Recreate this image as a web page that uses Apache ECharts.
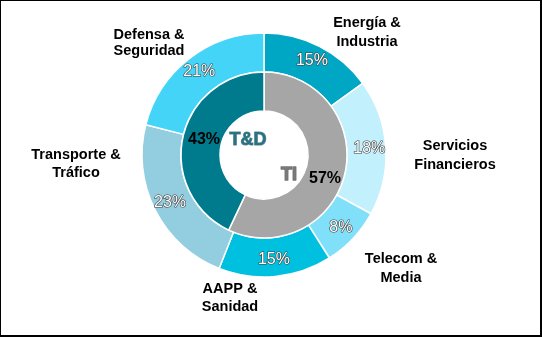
<!DOCTYPE html>
<html>
<head>
<meta charset="utf-8">
<script src="https://cdn.jsdelivr.net/npm/echarts@6/dist/echarts.min.js"></script>
<style>
html,body{margin:0;padding:0;background:#fff;}
#wrap{position:relative;width:542px;height:337px;}
#chart{position:absolute;left:0;top:0;width:542px;height:337px;}
#frame{position:absolute;left:0;top:0;width:542px;height:337px;box-sizing:border-box;border-left:1px solid #000;border-top:1px solid #000;border-right:2px solid #000;border-bottom:2px solid #000;pointer-events:none;}
</style>
</head>
<body>
<div id="wrap"><div id="chart"></div><div id="frame"></div></div>
<script>
const outerNames = ['Energía &\nIndustria', 'Servicios\nFinancieros', 'Telecom &\nMedia', 'AAPP &\nSanidad', 'Transporte &\nTráfico', 'Defensa &\nSeguridad'];
const outerValues = [15, 18, 8, 15, 23, 21];
const outerColors = ['#00a7c5', '#c2f0fc', '#80e0f9', '#00c0e0', '#93cde0', '#44d4f7'];
const innerNames = ['TI', 'T&D'];
const innerValues = [57, 43];
const innerColors = ['#a6a6a6', '#007b8d'];

// label placements (layout only)
const outerNamePos = [[367, 32], [455, 155], [401, 268], [230, 298], [76, 164], [149, 43]];
const outerNameLH = [19, 19, 19, 18, 18, 16];
const innerPctPos = [[325, 179], [204, 140]];
const innerNamePos = [[289, 175], [248, 140]];

const FONT = '"Liberation Sans", Arial, sans-serif';
const center = [264, 155];

const chart = echarts.init(document.getElementById('chart'), null, {renderer: 'canvas'});

const outerData = outerNames.map((n, i) => ({name: n, value: outerValues[i], itemStyle: {color: outerColors[i]}}));
const innerData = innerNames.map((n, i) => ({name: n, value: innerValues[i], itemStyle: {color: innerColors[i]}}));

chart.setOption({
  backgroundColor: '#ffffff',
  animation: false,
  series: [
    {
      type: 'pie', center: center, radius: [83, 122], startAngle: 90, clockwise: true,
      data: outerData, silent: true,
      itemStyle: {borderColor: '#fff', borderWidth: 1.5},
      label: {
        show: true, position: 'inside', formatter: '{c}%',
        fontFamily: FONT, fontSize: 16, color: '#fff',
        textBorderColor: '#3a3a3a', textBorderWidth: 1.2
      },
      labelLine: {show: false}
    },
    {
      type: 'pie', center: center, radius: [83, 122], startAngle: 90, clockwise: true,
      data: outerNames.map((n, i) => ({name: n, value: outerValues[i], label: {lineHeight: outerNameLH[i]}})),
      silent: true,
      itemStyle: {color: 'rgba(0,0,0,0)', borderWidth: 0},
      label: {
        show: true, position: 'inside', formatter: '{b}',
        fontFamily: FONT, fontSize: 14.5, fontWeight: 'bold', color: '#000',
        align: 'center'
      },
      labelLine: {show: false},
      labelLayout: function (p) {
        const pos = outerNamePos[p.dataIndex];
        return {x: pos[0], y: pos[1], align: 'center', verticalAlign: 'middle', hideOverlap: false};
      }
    },
    {
      type: 'pie', center: center, radius: [44, 83], startAngle: 90, clockwise: true,
      data: innerData, silent: true,
      itemStyle: {borderColor: '#fff', borderWidth: 1.5},
      label: {
        show: true, position: 'inside', formatter: '{c}%',
        fontFamily: FONT, fontSize: 16, fontWeight: 'bold', color: '#000'
      },
      labelLine: {show: false},
      labelLayout: function (p) {
        const pos = innerPctPos[p.dataIndex];
        return {x: pos[0], y: pos[1], align: 'center', verticalAlign: 'middle'};
      }
    },
    {
      type: 'pie', center: center, radius: [44, 83], startAngle: 90, clockwise: true,
      data: innerNames.map((n, i) => ({
        name: n, value: innerValues[i],
        label: i === 0
          ? {color: '#7a7a7a', textBorderColor: '#2e2e2e', textBorderWidth: 1}
          : {color: '#2a7182', textBorderColor: '#5f8c98', textBorderWidth: 1}
      })),
      silent: true,
      itemStyle: {color: 'rgba(0,0,0,0)', borderWidth: 0},
      label: {
        show: true, position: 'inside', formatter: '{b}',
        fontFamily: FONT, fontSize: 18, fontWeight: 'bold'
      },
      labelLine: {show: false},
      labelLayout: function (p) {
        const pos = innerNamePos[p.dataIndex];
        return {x: pos[0], y: pos[1], align: 'center', verticalAlign: 'middle'};
      }
    }
  ]
});
</script>
</body>
</html>
